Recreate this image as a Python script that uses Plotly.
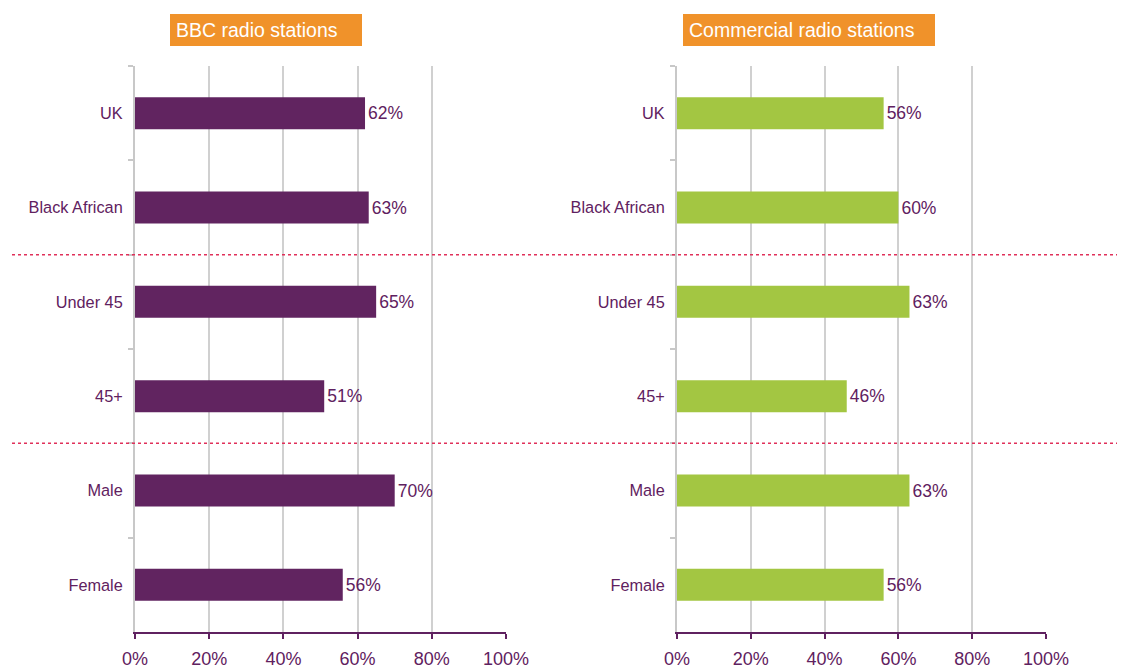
import plotly.graph_objects as go

categories = ["UK", "Black African", "Under 45", "45+", "Male", "Female"]
bbc_values = [62, 63, 65, 51, 70, 56]
commercial_values = [56, 60, 63, 46, 63, 56]
x_ticks = [0, 20, 40, 60, 80, 100]
titles = ["BBC radio stations", "Commercial radio stations"]

PURPLE = "#612460"
GREEN = "#a3c642"
TEXT = "#5f2160"
GRID = "#d0d0d0"
ORANGE = "#f0922a"
FONT = "Liberation Sans, Arial, sans-serif"

# page places the figure 8px from the top-left corner
OFF = 8
W, H = 1125 - OFF, 669 - OFF


def px(X):
    return (X - OFF) / W


def py(Y):
    return 1 - (Y - OFF) / H


fig = go.Figure()
fig.add_trace(go.Bar(
    x=bbc_values, y=categories, orientation="h", marker_color=PURPLE,
    marker_line_width=0,
    width=0.34, text=[f"{v}%" for v in bbc_values], textposition="outside",
    textfont=dict(color=TEXT, size=17.5, family=FONT), cliponaxis=False,
    xaxis="x", yaxis="y", showlegend=False))
fig.add_trace(go.Bar(
    x=commercial_values, y=categories, orientation="h", marker_color=GREEN,
    marker_line_width=0,
    width=0.34, text=[f"{v}%" for v in commercial_values], textposition="outside",
    textfont=dict(color=TEXT, size=17.5, family=FONT), cliponaxis=False,
    xaxis="x2", yaxis="y2", showlegend=False))

ydom = [py(632), py(66)]
xcommon = dict(range=[0, 100], tickvals=x_ticks, ticktext=[f"{t}%" for t in x_ticks],
               showgrid=True, gridcolor=GRID, gridwidth=2, zeroline=False,
               showline=True, linecolor=TEXT, linewidth=1.5, ticks="outside",
               tickcolor=TEXT, ticklen=5, tickwidth=1.5, automargin=False,
               ticklabelstandoff=5,
               tickfont=dict(color=TEXT, size=18, family=FONT), fixedrange=True)
ycommon = dict(categoryorder="array", categoryarray=categories, autorange="reversed",
               showgrid=False, zeroline=False, showline=True, linecolor="#c8c8c8",
               linewidth=2, ticks="outside", tickson="boundaries", ticklen=5,
               tickcolor="#c8c8c8", tickwidth=2, automargin=False,
               ticklabelstandoff=7,
               tickfont=dict(color=TEXT, size=16.3, family=FONT), domain=ydom)

fig.update_layout(
    template="none",
    width=W, height=H, margin=dict(l=0, r=0, t=0, b=0, autoexpand=False),
    paper_bgcolor="white", plot_bgcolor="white", bargap=0.66,
    font=dict(family=FONT, color=TEXT),
    xaxis=dict(domain=[px(135), px(506)], anchor="y", **xcommon),
    xaxis2=dict(domain=[px(677), px(1046)], anchor="y2", **xcommon),
    yaxis=dict(anchor="x", **ycommon),
    yaxis2=dict(anchor="x2", **ycommon),
)

# title boxes
boxes = [(170, 362, titles[0]), (683, 935, titles[1])]
for x0, x1, t in boxes:
    fig.add_shape(type="rect", xref="paper", yref="paper",
                  x0=px(x0), x1=px(x1), y0=py(46), y1=py(14),
                  fillcolor=ORANGE, line_width=0, layer="above")
    fig.add_annotation(xref="paper", yref="paper", x=px(x0 + 4), y=py(30),
                       text=t, showarrow=False, xanchor="left", yanchor="middle",
                       font=dict(color="white", size=19.5, family=FONT))

# dotted group separators
for yv in [1.5, 3.5]:
    fig.add_shape(type="line", xref="paper", yref="y", x0=px(12), x1=1,
                  y0=yv, y1=yv, line=dict(color="#e0305a", width=1.5, dash="dot"),
                  layer="above")

fig.write_html("out.html")
